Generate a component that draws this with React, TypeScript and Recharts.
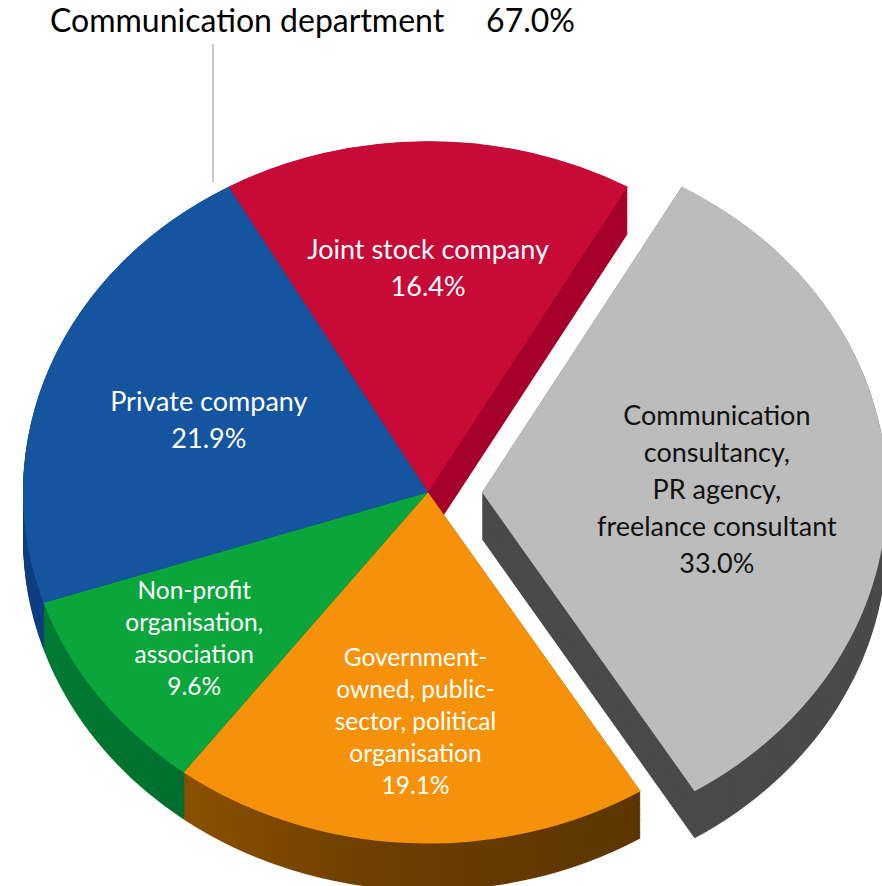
import React from 'react'
import { PieChart, Pie, Cell } from 'recharts'

// slices, clockwise from the top
const categories = [
  'Joint stock company',
  'Communication consultancy, PR agency, freelance consultant',
  'Government-owned, public-sector, political organisation',
  'Non-profit organisation, association',
  'Private company',
]
const shares = [16.4, 33.0, 19.1, 9.6, 21.9]
const labelLines = [
  ['Joint stock company'],
  ['Communication', 'consultancy,', 'PR agency,', 'freelance consultant'],
  ['Government-', 'owned, public-', 'sector, political', 'organisation'],
  ['Non-profit', 'organisation,', 'association'],
  ['Private company'],
]
const inDepartment = [true, false, true, true, true]
const departmentName = 'Communication department'
const explodedIndex = 1

const topColors = ['#C80A37', '#BBBCBB', '#F5920A', '#0AA63C', '#1555A0']
const sideColors = ['#A5002B', '#4A4A4A', 'url(#sideOrange)', 'url(#sideGreen)', '#0F3F82']
const textColors = ['#fff', '#111', '#fff', '#fff', '#fff']
const labelSize = [27, 27, 24.5, 24.5, 27]
const labelLead = [37, 37, 32, 32, 37]
const labelRadius = [0.64, 0.58, 0.65, 0.71, 0.58]

const W = 882
const H = 886
const SY = 0.867 // vertical squash of the tilted pie
const CX = 423
const CY = 488
const R = 405
const DEPTH = 47
const EXPLODE = 54
const START = 119.5
const FONT = 'Lato, "Noto Sans", sans-serif'

const data = categories.map((name, i) => ({ name, value: shares[i] }))
const departmentTotal = shares.reduce((s, v, i) => (inDepartment[i] ? s + v : s), 0)

const cyScaled = CY / SY
const depthScaled = DEPTH / SY
const layers: number[] = []
for (let d = depthScaled; d > 0; d -= 2) layers.push(d)

const RAD = Math.PI / 180

function renderLabel(props: any) {
  const { cx, cy, midAngle, index } = props
  const r = R * labelRadius[index]
  const x = cx + r * Math.cos(midAngle * RAD) + (index === explodedIndex ? EXPLODE : 0)
  const y = cy - r * Math.sin(midAngle * RAD) * SY
  const lines = [...labelLines[index], `${shares[index].toFixed(1)}%`]
  const fs = labelSize[index]
  const lead = labelLead[index]
  const top = y - ((lines.length - 1) * lead) / 2 + fs * 0.35
  return (
    <text key={`lbl-${index}`} textAnchor="middle" fill={textColors[index]} fontSize={fs} fontFamily={FONT}>
      {lines.map((t, k) => (
        <tspan key={k} x={x} y={top + k * lead}>{t}</tspan>
      ))}
    </text>
  )
}

function slicePie(key: string, cx: number, cy: number, colors: string[], show: (i: number) => boolean) {
  return (
    <Pie
      key={key}
      data={data}
      dataKey="value"
      cx={cx}
      cy={cy}
      outerRadius={R}
      startAngle={START}
      endAngle={START - 360}
      stroke="none"
      isAnimationActive={false}
    >
      {data.map((e, i) => (
        <Cell key={`c-${e.name}`} fill={show(i) ? colors[i] : 'transparent'} stroke="none" />
      ))}
    </Pie>
  )
}

export default function App() {
  const main = (i: number) => i !== explodedIndex
  const ex = (i: number) => i === explodedIndex
  return (
    <div style={{ position: 'absolute', left: 0, top: 0, width: W, height: H, overflow: 'hidden', background: '#fff' }}>
      <div style={{ position: 'absolute', left: 0, top: 0, width: W, height: H / SY + 10, transform: `scaleY(${SY})`, transformOrigin: '0 0' }}>
        <PieChart width={W} height={Math.ceil(H / SY) + 10}>
          <defs>
            <linearGradient id="sideOrange" x1="0" y1="0" x2="1" y2="0">
              <stop offset="0%" stopColor="#8A5000" />
              <stop offset="40%" stopColor="#6E3F00" />
              <stop offset="100%" stopColor="#5C3500" />
            </linearGradient>
            <linearGradient id="sideGreen" x1="0" y1="0" x2="1" y2="0">
              <stop offset="0%" stopColor="#007A33" />
              <stop offset="100%" stopColor="#005A22" />
            </linearGradient>
          </defs>
          {layers.map((d) => slicePie(`ms-${d}`, CX, cyScaled + d, sideColors, main))}
          {slicePie('mt', CX, cyScaled, topColors, main)}
          {layers.map((d) => slicePie(`es-${d}`, CX + EXPLODE, cyScaled + d, sideColors, ex))}
          {slicePie('et', CX + EXPLODE, cyScaled, topColors, ex)}
        </PieChart>
      </div>
      <div style={{ position: 'absolute', left: 0, top: 0 }}>
        <PieChart width={W} height={H}>
          <Pie
            data={data}
            dataKey="value"
            cx={CX}
            cy={CY}
            outerRadius={R}
            startAngle={START}
            endAngle={START - 360}
            stroke="none"
            fill="transparent"
            label={renderLabel}
            labelLine={false}
            isAnimationActive={false}
          />
        </PieChart>
      </div>
      <svg width={W} height={H} style={{ position: 'absolute', left: 0, top: 0, pointerEvents: 'none' }}>
        <line x1={213} y1={44} x2={213} y2={182} stroke="#A6A6A6" strokeWidth={1.2} />
        <text x={50} y={32} fontSize={32} fontFamily={FONT} fill="#000">{departmentName}</text>
        <text x={575} y={32} fontSize={32} fontFamily={FONT} fill="#000" textAnchor="end">{`${departmentTotal.toFixed(1)}%`}</text>
      </svg>
    </div>
  )
}
